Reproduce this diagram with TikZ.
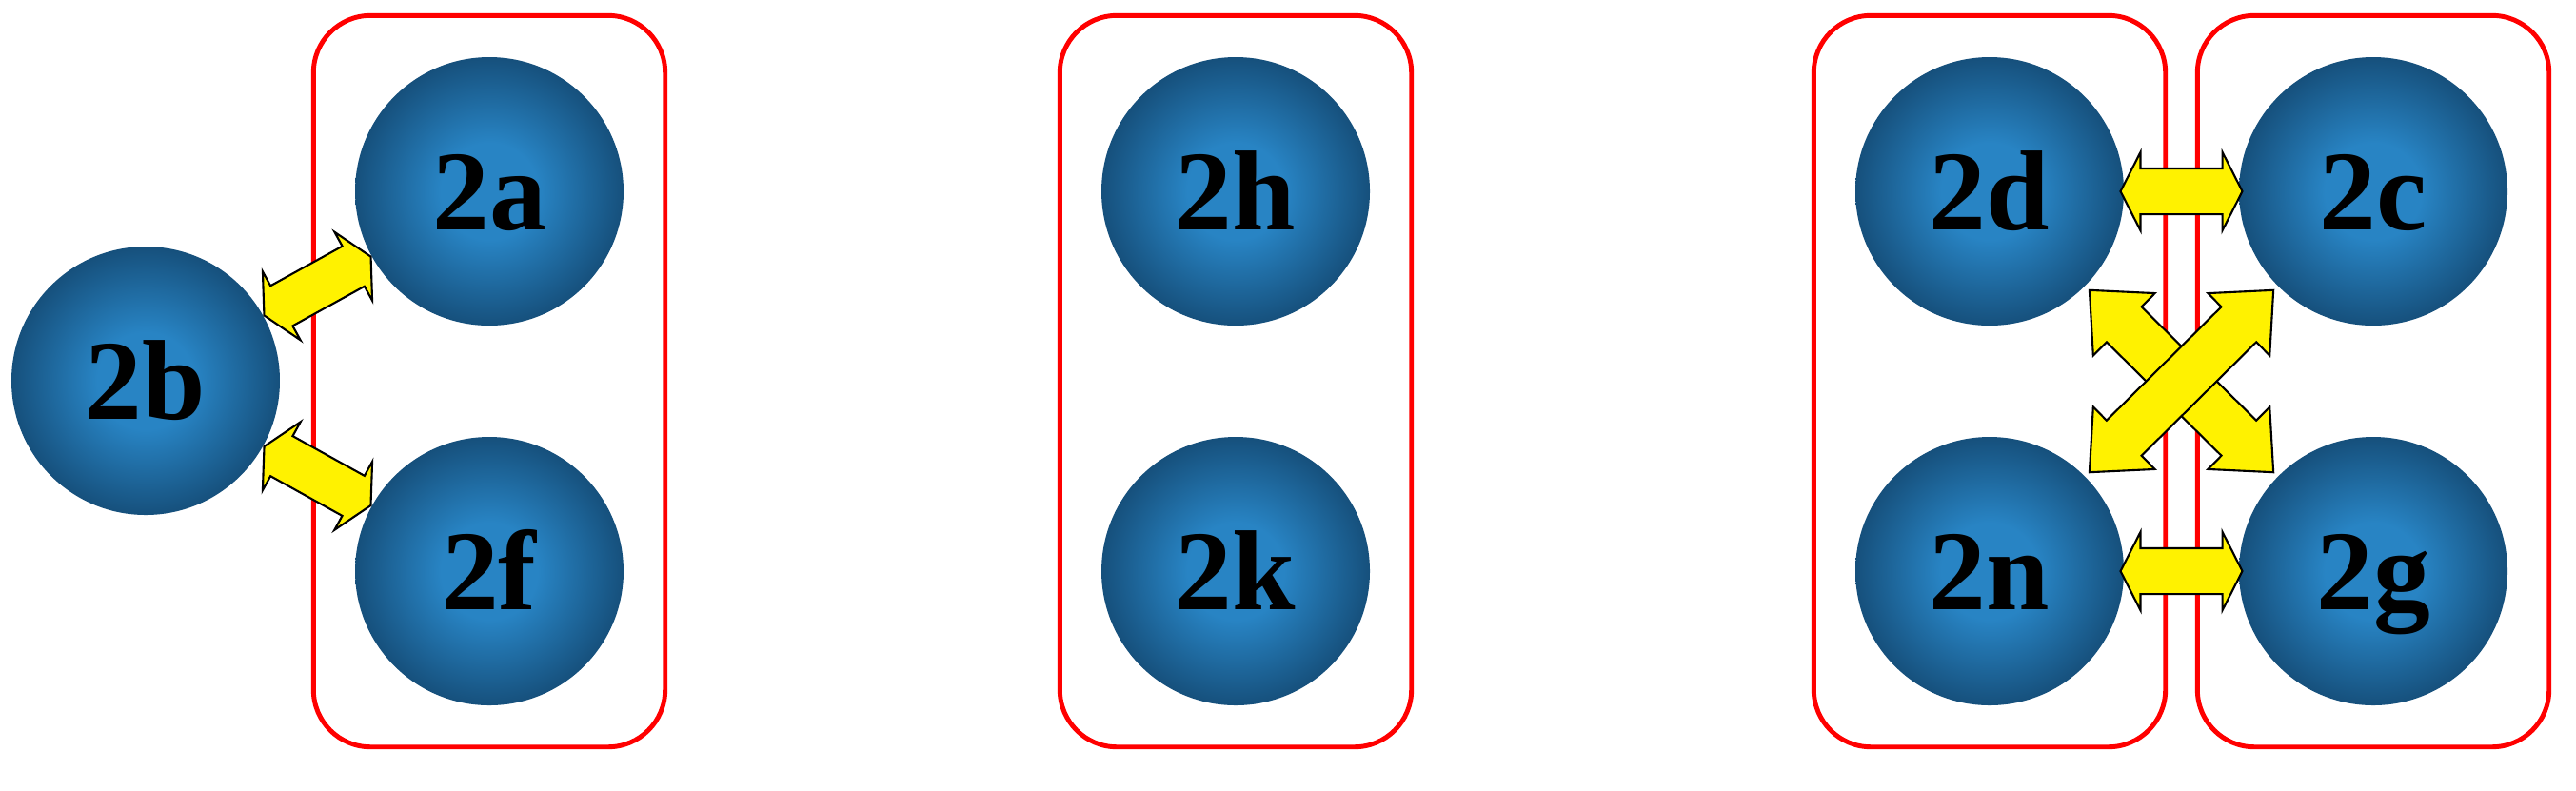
\documentclass[tikz,border=0pt]{standalone}
\usepackage{fontspec}
\setmainfont{Liberation Serif}
\usepackage{tikz}
\usetikzlibrary{shapes.arrows,positioning,fit}

\definecolor{balldark}{RGB}{22,80,124}
\definecolor{balllight}{RGB}{40,132,196}
\pgfdeclareradialshading{ballshade}{\pgfpointorigin}{color(0bp)=(balllight); color(9bp)=(balllight); color(25bp)=(balldark); color(50bp)=(balldark)}

\begin{document}
\begin{tikzpicture}[node distance=3.99cm,on grid]
        \tikzstyle{ball}=[circle,minimum size=2.82cm,inner sep=0pt,shading=ballshade,
                font=\fontsize{34}{34}\selectfont\bfseries,text height=0.8cm,text depth=0pt]
        \tikzstyle{grp}=[draw=red,line width=1.4pt,rounded corners=0.6cm,inner sep=0.43cm]
        \tikzstyle{link}=[double arrow,draw=black,line width=0.6pt,fill=yellow,inner sep=0.23cm,
                double arrow head extend=0.17cm,double arrow tip angle=126,minimum height=1.28cm]
        \tikzstyle{crosslink}=[link,inner sep=0.25cm,double arrow head extend=0.2cm,double arrow tip angle=84,minimum height=2.72cm]
        \useasboundingbox (0,0) rectangle (27.06,-8.30);
        % left group
        \node[ball] (a) at (5.14,-2.01) {2a};
        \node[ball] (f) [below=of a] {2f};
        \node[ball] (b) at (1.53,-4.00) {2b};
        % middle group
        \node[ball] (h) at (12.98,-2.01) {2h};
        \node[ball] (k) [below=of h] {2k};
        % right groups
        \node[ball] (d) at (20.90,-2.01) {2d};
        \node[ball] (c) [right=4.03cm of d] {2c};
        \node[ball] (n) [below=of d] {2n};
        \node[ball] (g) [below=of c] {2g};
        \node[grp,fit=(a)(f)] (ga) {};
        \node[grp,fit=(h)(k)] (gh) {};
        \node[grp,fit=(d)(n)] (gd) {};
        \node[grp,fit=(c)(g)] (gc) {};
        \path (b) -- (a) node[midway,sloped,link] {};
        \path (b) -- (f) node[midway,sloped,link] {};
        \path (d) -- (c) node[midway,sloped,link] {};
        \path (n) -- (g) node[midway,sloped,link] {};
        \path (d) -- (g) node[midway,sloped,crosslink] {};
        \path (n) -- (c) node[midway,sloped,crosslink] {};
\end{tikzpicture}
\end{document}
